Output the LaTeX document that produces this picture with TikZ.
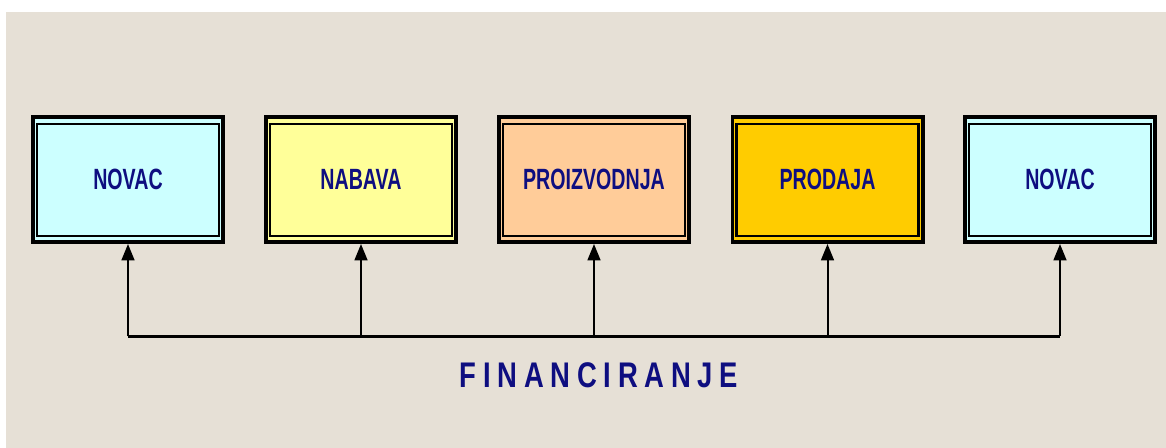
\documentclass[tikz,border=0pt]{standalone}
\usepackage{fontspec}
\usepackage{xcolor}
\usepackage{tikz}
\usetikzlibrary{arrows.meta}
\newfontfamily\boxfont[FakeStretch=0.67]{Liberation Sans}
\newfontfamily\finfont[FakeStretch=0.77,LetterSpace=19]{Liberation Sans}
\definecolor{paper}{RGB}{230,224,214}
\definecolor{ink}{RGB}{14,14,128}
\definecolor{cash}{RGB}{204,255,255}
\definecolor{supply}{RGB}{255,255,153}
\definecolor{make}{RGB}{255,204,153}
\definecolor{sale}{RGB}{255,204,0}

\begin{document}
\begin{tikzpicture}[x=0.03cm,y=0.03cm,
  stage/.style={draw,line width=3.4pt,minimum width=5.7cm,minimum height=3.75cm,inner sep=0pt,
    text=ink,font=\boxfont\bfseries\fontsize{25}{26}\selectfont},
  inner/.style={line width=2.1pt},
  feed/.style={line width=1.7pt,-{Triangle[length=14pt,width=11pt]}}]
\useasboundingbox (0,0) rectangle (1166,448);
\fill[paper] (6,0) rectangle (1166,436);
% stages
\node[stage,fill=cash] (b1) at (128,268.5) {NOVAC};
\node[stage,fill=supply] (b2) at (361,268.5) {NABAVA};
\node[stage,fill=make] (b3) at (594,268.5) {PROIZVODNJA};
\node[stage,fill=sale] (b4) at (827.5,268.5) {PRODAJA};
\node[stage,fill=cash] (b5) at (1060,268.5) {NOVAC};
\foreach \n in {1,...,5}
  \draw[inner] ([shift={(6,-9)}]b\n.north west) rectangle ([shift={(-6,8)}]b\n.south east);
% financing line
\coordinate (j1) at (128,111.5);
\coordinate (j2) at (361,111.5);
\coordinate (j3) at (594,111.5);
\coordinate (j4) at (827.5,111.5);
\coordinate (j5) at (1060,111.5);
\draw[line width=1.9pt] (j1) -- (j5);
\foreach \n in {1,...,5}
  \draw[feed] (j\n) -- (b\n);
\node[text=ink,font=\finfont\bfseries\fontsize{30.4}{32}\selectfont] (fin) at (599,73) {FINANCIRANJE};
\end{tikzpicture}
\end{document}
